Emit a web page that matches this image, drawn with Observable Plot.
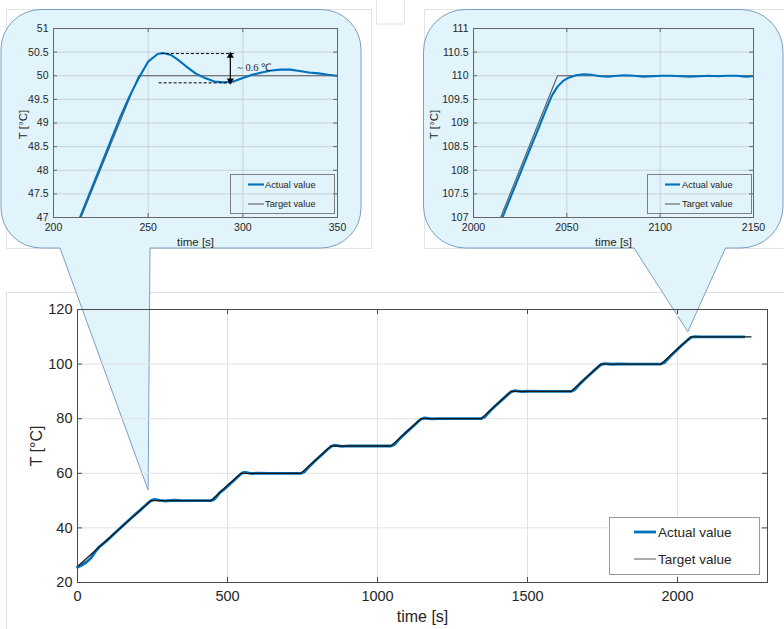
<!DOCTYPE html>
<html><head><meta charset="utf-8">
<script src="https://cdn.jsdelivr.net/npm/d3@7"></script>
<script src="https://cdn.jsdelivr.net/npm/@observablehq/plot@0.6"></script>
<style>
html,body{margin:0;padding:0;background:#fff;}
#wrap{position:relative;width:784px;height:629px;overflow:hidden;font-family:"Liberation Sans",Arial,sans-serif;}
#wrap > svg{position:absolute;left:0;top:0;}
.legend{position:absolute;box-sizing:border-box;}
.legend svg{display:block;}
</style></head><body><div id="wrap"></div>
<script>
// ---------------- data ----------------
const seriesNames = ["Actual value", "Target value"];
const seriesColors = ["#0072BD", "#2a2a2a"];

// main chart: target temperature profile
const targetTime = [0, 245, 445, 545, 745, 845, 1045, 1145, 1345, 1445, 1645, 1745, 1945, 2045, 2245];
const targetTemp = [25.9, 50, 50, 60, 60, 70, 70, 80, 80, 90, 90, 100, 100, 110, 110];

// main chart: measured temperature
const actualTime = [0, 15, 30, 45, 60, 72, 90, 110, 130, 150, 170, 190, 210, 230, 245, 257, 275, 291, 323, 350, 400, 445,
  455, 465, 475, 485, 500, 520, 540, 550, 560, 580, 600, 640, 700, 745,
  757, 775, 795, 815, 835, 845, 857, 880, 905, 945, 1045,
  1057, 1075, 1095, 1115, 1135, 1145, 1157, 1180, 1205, 1245, 1345,
  1357, 1375, 1395, 1415, 1435, 1445, 1457, 1480, 1505, 1545, 1645,
  1657, 1675, 1695, 1715, 1735, 1745, 1757, 1780, 1805, 1845, 1945,
  1957, 1975, 1995, 2015, 2035, 2045, 2058, 2080, 2120, 2222];
const actualTemp = [25.6, 26.4, 27.5, 29.0, 31.4, 33.0, 34.6, 36.6, 38.7, 40.7, 42.7, 44.7, 46.6, 48.6, 50.0, 50.48, 50.08, 49.86, 50.13, 50.0, 50.0, 50.0,
  50.4, 51.6, 53.0, 53.8, 55.3, 57.3, 59.3, 60.2, 60.35, 59.9, 60.05, 59.95, 60.0, 60.0,
  60.6, 62.8, 64.9, 66.9, 68.9, 69.8, 70.3, 69.9, 70.05, 70.0, 70.0,
  70.6, 72.8, 74.9, 76.9, 78.9, 79.8, 80.3, 79.9, 80.05, 80.0, 80.0,
  80.6, 82.8, 84.9, 86.9, 88.9, 89.8, 90.25, 89.95, 90.05, 90.0, 90.0,
  90.6, 92.8, 94.9, 96.9, 98.9, 99.8, 100.2, 99.95, 100.03, 100.0, 100.0,
  100.6, 102.8, 104.9, 107.0, 108.9, 109.77, 110.03, 110.0, 110.0, 110.0];

// zoom 1 (first set point, 50 °C)
const zoom1ActualTime = [214, 220, 225, 230, 235, 240, 245, 250, 255, 258, 262, 266, 270, 275, 280, 285, 290, 295, 300, 305, 310, 315, 320, 325, 330, 335, 340, 345, 350];
const zoom1ActualTemp = [47.0, 47.6, 48.1, 48.6, 49.1, 49.55, 49.95, 50.3, 50.46, 50.48, 50.44, 50.33, 50.2, 50.05, 49.95, 49.88, 49.86, 49.88, 49.95, 50.02, 50.07, 50.11, 50.13, 50.13, 50.1, 50.07, 50.05, 50.02, 50.0];
const zoom1TargetTime = [214.5, 245, 350];
const zoom1TargetTemp = [47, 50, 50];
const overshootPeak = 50.47, overshootLow = 49.85;
const overshootLabel = "~ 0.6 ℃";

// zoom 2 (last set point, 110 °C)
const zoom2ActualTime = [2015.5, 2020, 2025, 2030, 2035, 2039, 2042, 2045, 2048, 2051, 2055, 2059, 2063, 2068, 2072, 2077, 2081, 2086, 2091, 2096, 2101, 2106, 2111, 2116, 2121, 2126, 2131, 2136, 2141, 2146, 2150];
const zoom2ActualTemp = [107, 107.44, 107.93, 108.42, 108.9, 109.3, 109.58, 109.77, 109.89, 109.96, 110.01, 110.03, 110.02, 109.99, 109.98, 110.0, 110.01, 110.0, 109.98, 109.99, 110.0, 110.0, 109.99, 109.98, 109.99, 110.0, 109.99, 110.0, 110.0, 109.98, 109.99];
const zoom2TargetTime = [2014.5, 2045, 2150];
const zoom2TargetTemp = [107, 110, 110];

// ticks
const mainXTicks = [0, 500, 1000, 1500, 2000];
const mainYTicks = [20, 40, 60, 80, 100, 120];
const zoom1XTicks = [200, 250, 300, 350];
const zoom2XTicks = [2000, 2050, 2100, 2150];
const zoom1YTicks = [47, 47.5, 48, 48.5, 49, 49.5, 50, 50.5, 51];
const zoom2YTicks = [107, 107.5, 108, 108.5, 109, 109.5, 110, 110.5, 111];
const xLabel = "time [s]";
const yLabel = "T [°C]";

// ---------------- helpers ----------------
const zip = (ts, vs) => ts.map((t, i) => ({t, v: vs[i]}));
const fmt = d => String(d);
const W = 784, H = 629;
const wrap = document.getElementById("wrap");
const FONT = "'Liberation Sans', Arial, Helvetica, sans-serif";

function inwardTicks(xt, yt, fw, fh, len, color) {
  return [
    Plot.ruleX(xt, {x: d => d, insetTop: fh - len, stroke: color}),
    Plot.ruleX(xt, {x: d => d, insetBottom: fh - len, stroke: color}),
    Plot.ruleY(yt, {y: d => d, insetRight: fw - len, stroke: color}),
    Plot.ruleY(yt, {y: d => d, insetLeft: fw - len, stroke: color})
  ];
}

// ---------------- main chart ----------------
const mM = {left: 77, right: 17, top: 309, bottom: 47};
const mainPlot = Plot.plot({
  width: W, height: H,
  marginLeft: mM.left, marginRight: mM.right, marginTop: mM.top, marginBottom: mM.bottom,
  x: {domain: [0, 2300]},
  y: {domain: [20, 120]},
  style: {background: "transparent", fontFamily: FONT, fontSize: "14.5px", color: "#262626", overflow: "visible"},
  marks: [
    Plot.gridX(mainXTicks, {stroke: "#e2e2e2", strokeOpacity: 1}),
    Plot.gridY(mainYTicks, {stroke: "#e2e2e2", strokeOpacity: 1}),
    Plot.line(zip(actualTime, actualTemp), {x: "t", y: "v", stroke: seriesColors[0], strokeWidth: 2.8}),
    Plot.line(zip(targetTime, targetTemp), {x: "t", y: "v", stroke: "#1a1a1a", strokeWidth: 1.3}),
    Plot.frame({stroke: "#4a4a4a"}),
    ...inwardTicks(mainXTicks, mainYTicks, W - mM.left - mM.right, H - mM.top - mM.bottom, 5, "#4a4a4a"),
    Plot.axisX(mainXTicks, {tickSize: 0, tickPadding: 8, label: null, tickFormat: fmt}),
    Plot.axisY(mainYTicks, {tickSize: 0, tickPadding: 5, label: null, tickFormat: fmt}),
    Plot.text([xLabel], {frameAnchor: "bottom", dy: 34, lineAnchor: "middle", fontSize: 16, fill: "#262626"}),
    Plot.text([yLabel], {frameAnchor: "left", dx: -41, rotate: -90, textAnchor: "middle", lineAnchor: "middle", fontSize: 16, fill: "#262626"})
  ]
});

// ---------------- insets ----------------
function inset({left, right, xDomain, yDomain, xt, yt, actual, target, labelDx, extra = []}) {
  const m = {left, right: W - right, top: 28, bottom: H - 217};
  return Plot.plot({
    width: W, height: H,
    marginLeft: m.left, marginRight: m.right, marginTop: m.top, marginBottom: m.bottom,
    x: {domain: xDomain}, y: {domain: yDomain},
    style: {background: "transparent", fontFamily: FONT, fontSize: "10.5px", color: "#262626", overflow: "visible"},
    marks: [
      Plot.gridX(xt, {stroke: "#b9c6cc", strokeOpacity: 0.7}),
      Plot.gridY(yt, {stroke: "#b9c6cc", strokeOpacity: 0.7}),
      Plot.line(target, {x: "t", y: "v", stroke: "#5a5a5a", strokeWidth: 1.1, clip: true}),
      Plot.line(actual, {x: "t", y: "v", stroke: seriesColors[0], strokeWidth: 2.1, clip: true}),
      ...extra,
      Plot.frame({stroke: "#666"}),
      ...inwardTicks(xt, yt, right - left, 217 - 28, 4, "#666"),
      Plot.axisX(xt, {tickSize: 0, tickPadding: 6.5, label: null, tickFormat: fmt}),
      Plot.axisY(yt, {tickSize: 0, tickPadding: 5, label: null, tickFormat: fmt}),
      Plot.text([xLabel], {frameAnchor: "bottom", dy: 25, lineAnchor: "middle", fontSize: 11.5, fill: "#262626"}),
      Plot.text([yLabel], {frameAnchor: "left", dx: labelDx, dy: 1.5, rotate: -90, textAnchor: "middle", lineAnchor: "middle", fontSize: 11.5, fill: "#262626"})
    ]
  });
}

const overshootMarks = [
  Plot.ruleY([overshootPeak], {x1: 257, x2: 295.6, stroke: "#000", strokeDasharray: "3,2"}),
  Plot.ruleY([overshootLow], {x1: 255.8, x2: 295.6, stroke: "#000", strokeDasharray: "3,2"}),
  Plot.ruleX([293.4], {y1: overshootLow + 0.04, y2: overshootPeak - 0.04, stroke: "#000", strokeWidth: 1.2}),
  Plot.dot([{t: 293.4, v: overshootPeak}], {x: "t", y: "v", symbol: "triangle", r: 2.6, fill: "#000", dy: 2.2}),
  Plot.dot([{t: 293.4, v: overshootLow}], {x: "t", y: "v", symbol: "triangle", r: 2.6, fill: "#000", rotate: 180, dy: -2.2}),
  Plot.text([overshootLabel], {x: 297, y: 50.17, textAnchor: "start", fontFamily: "'Liberation Serif','Times New Roman',serif", fontSize: 10.5, fill: "#222"})
];

const inset1 = inset({left: 53, right: 337, xDomain: [200, 350], yDomain: [47, 51], xt: zoom1XTicks, yt: zoom1YTicks, labelDx: -30,
  actual: zip(zoom1ActualTime, zoom1ActualTemp), target: zip(zoom1TargetTime, zoom1TargetTemp), extra: overshootMarks});
const inset2 = inset({left: 473, right: 753, xDomain: [2000, 2150], yDomain: [107, 111], xt: zoom2XTicks, yt: zoom2YTicks, labelDx: -39,
  actual: zip(zoom2ActualTime, zoom2ActualTemp), target: zip(zoom2TargetTime, zoom2TargetTemp)});

// ---------------- callouts (background layer) ----------------
const sx = mainPlot.scale("x"), sy = mainPlot.scale("y");
const tip1 = [sx.apply(237), sy.apply(53.7)];
const tip2 = [sx.apply(2036), sy.apply(111.7)];

function bubble(x0, y0, x1, y1, r, p1, tip, p2) {
  return `M${x0 + r},${y0} H${x1 - r} A${r},${r} 0 0 1 ${x1},${y0 + r} V${y1 - r} A${r},${r} 0 0 1 ${x1 - r},${y1} H${p2} L${tip[0]},${tip[1]} L${p1},${y1} H${x0 + r} A${r},${r} 0 0 1 ${x0},${y1 - r} V${y0 + r} A${r},${r} 0 0 1 ${x0 + r},${y0} Z`;
}
const bg = d3.create("svg").attr("width", W).attr("height", H);
// faint screenshot frames
bg.append("rect").attr("x", 6.5).attr("y", 9.5).attr("width", 365).attr("height", 239).attr("fill", "none").attr("stroke", "#e3e3e3");
bg.append("rect").attr("x", 376.5).attr("y", -1).attr("width", 28).attr("height", 25).attr("fill", "none").attr("stroke", "#e3e3e3");
bg.append("rect").attr("x", 424.5).attr("y", 9.5).attr("width", 370).attr("height", 239).attr("fill", "none").attr("stroke", "#e3e3e3");
bg.append("rect").attr("x", 6.5).attr("y", 292.5).attr("width", 800).attr("height", 400).attr("fill", "none").attr("stroke", "#e0e0e0");
bg.append("path").attr("d", bubble(1, 9.5, 361, 248, 40, 60, tip1, 150)).attr("fill", "#e1f3fb").attr("stroke", "#7c9fc4").attr("stroke-width", 1);
bg.append("path").attr("d", bubble(423.5, 9.5, 783, 248, 42, 634, tip2, 725.5)).attr("fill", "#e1f3fb").attr("stroke", "#7c9fc4").attr("stroke-width", 1);

wrap.append(bg.node());
wrap.append(mainPlot);
wrap.append(inset1);
wrap.append(inset2);

// ---------------- legends ----------------
function legend({left, top, width, height, x1, x2, tx, y1, y2, fs, bg, border, widths}) {
  const div = document.createElement("div");
  div.className = "legend";
  Object.assign(div.style, {left: left + "px", top: top + "px", width: width + "px", height: height + "px",
    background: bg, border: `1px solid ${border}`});
  const s = d3.create("svg").attr("width", width - 2).attr("height", height - 2);
  const ys = [y1, y2];
  const cols = [seriesColors[0], "#555"];
  seriesNames.forEach((name, i) => {
    s.append("line").attr("x1", x1).attr("x2", x2).attr("y1", ys[i]).attr("y2", ys[i])
      .attr("stroke", cols[i]).attr("stroke-width", widths[i]);
    s.append("text").attr("x", tx).attr("y", ys[i]).attr("dy", "0.35em").attr("font-family", FONT)
      .attr("font-size", fs).attr("fill", "#262626").text(name);
  });
  div.append(s.node());
  wrap.append(div);
}
legend({left: 609, top: 517, width: 151, height: 58, x1: 24, x2: 46, tx: 48, y1: 14, y2: 41, fs: 13.5, bg: "#fff", border: "#999", widths: [2.8, 1]});
legend({left: 230, top: 174, width: 105, height: 40, x1: 17, x2: 33, tx: 34, y1: 9.5, y2: 29, fs: 9.3, bg: "transparent", border: "#808080", widths: [2.1, 1]});
legend({left: 647, top: 174, width: 105, height: 40, x1: 17, x2: 32, tx: 34, y1: 9.5, y2: 29, fs: 9.3, bg: "transparent", border: "#808080", widths: [2.1, 1]});
</script></body></html>
